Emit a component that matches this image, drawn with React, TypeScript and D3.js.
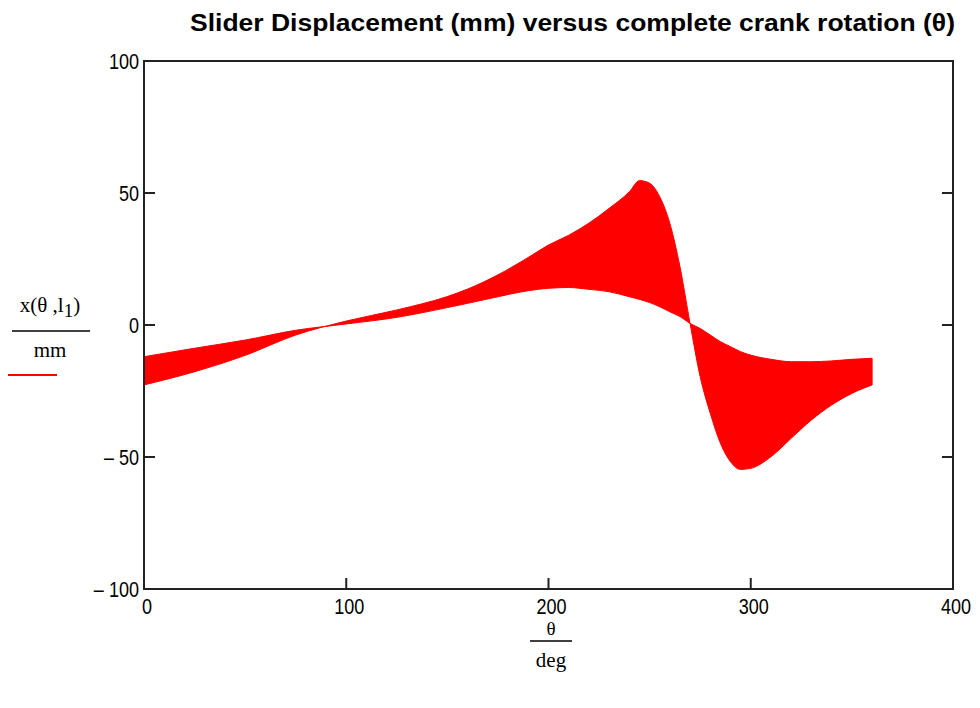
import React from 'react';
import * as d3 from 'd3';

// crank angle samples (deg) and the two envelope curves of the band (mm)
const THETA = [0, 25, 50, 75, 100, 125, 150, 160, 175, 190, 200, 210, 220, 230, 240, 245, 250, 255, 260, 265, 270, 275, 280, 285, 290, 295, 300, 310, 320, 330, 340, 350, 360];
const LARGE = [-22.7, -17.7, -11.5, -3.8, 1.5, 5.7, 10.8, 13.6, 19.0, 25.6, 30.3, 34.0, 38.6, 44.2, 50.5, 54.7, 53.7, 48.6, 38.5, 22.1, 0.6, -19.6, -33.5, -44.8, -51.8, -54.7, -54.3, -49.9, -42.9, -36.0, -30.3, -25.9, -22.7];
const SMALL = [-12.0, -8.8, -5.7, -2.0, 0.4, 2.9, 6.6, 8.2, 10.7, 13.0, 13.9, 14.2, 13.5, 12.6, 10.7, 9.7, 8.5, 6.9, 5.0, 3.2, 0.6, -1.3, -3.8, -6.3, -8.2, -10.1, -11.4, -13.0, -13.9, -13.9, -13.6, -13.0, -12.6];

const X_TICKS = [0, 100, 200, 300, 400];
const Y_TICKS = [100, 50, 0, -50, -100];
const Y_TICK_LABELS = ['100', '50', '0', '\u2013 50', '\u2013 100'];
const TITLE = 'Slider Displacement (mm) versus  complete  crank rotation (\u03b8)';

const W = 980;
const H = 708;
const PLOT = { left: 144, right: 953, top: 61, bottom: 589 };
const FRAME = '#222';
const TICK_FONT = '"Liberation Sans", Arial, sans-serif';
const SERIF = '"Liberation Serif", "Times New Roman", serif';
const SQUEEZE = 0.82;

export default function App() {
  const x = d3.scaleLinear().domain([0, 400]).range([PLOT.left, PLOT.right]);
  const y = d3.scaleLinear().domain([-100, 100]).range([PLOT.bottom, PLOT.top]);

  const band = THETA.map((t, i) => ({ t, a: LARGE[i], b: SMALL[i] }));
  const area = d3
    .area<{ t: number; a: number; b: number }>()
    .x((d) => x(d.t))
    .y0((d) => y(d.b))
    .y1((d) => y(d.a))
    .curve(d3.curveMonotoneX);

  return (
    <svg
      width={W}
      height={H}
      style={{ position: 'absolute', left: 0, top: 0, background: '#fff' }}
    >
      <text
        x={190}
        y={31}
        fontFamily={TICK_FONT}
        fontWeight="bold"
        fontSize={23}
        textLength={765}
        lengthAdjust="spacingAndGlyphs"
        fill="#000"
      >
        {TITLE}
      </text>

      {/* band */}
      <path d={area(band) ?? ''} fill="#ff0000" stroke="#ff0000" strokeWidth={1} />

      {/* frame */}
      <rect
        x={PLOT.left}
        y={PLOT.top}
        width={PLOT.right - PLOT.left}
        height={PLOT.bottom - PLOT.top}
        fill="none"
        stroke={FRAME}
        strokeWidth={2}
      />

      {/* x ticks */}
      {X_TICKS.map((t) => (
        <g key={t}>
          {t > 0 && t < 400 && (
            <line x1={x(t)} x2={x(t)} y1={PLOT.bottom} y2={PLOT.bottom - 11} stroke={FRAME} strokeWidth={2} />
          )}
          <text
            transform={`translate(${x(t) + 3},${PLOT.bottom + 25}) scale(${SQUEEZE},1)`}
            textAnchor="middle"
            fontFamily={TICK_FONT}
            fontSize={22}
            fill="#000"
          >
            {t}
          </text>
        </g>
      ))}

      {/* y ticks */}
      {Y_TICKS.map((t, i) => (
        <g key={t}>
          {t > -100 && t < 100 && (
            <>
              <line x1={PLOT.left} x2={PLOT.left + 11} y1={y(t)} y2={y(t)} stroke={FRAME} strokeWidth={2} />
              <line x1={PLOT.right} x2={PLOT.right - 11} y1={y(t)} y2={y(t)} stroke={FRAME} strokeWidth={2} />
            </>
          )}
          <text
            transform={`translate(${PLOT.left - 5},${y(t) + 8}) scale(${SQUEEZE},1)`}
            textAnchor="end"
            fontFamily={TICK_FONT}
            fontSize={22}
            fill="#000"
          >
            {Y_TICK_LABELS[i]}
          </text>
        </g>
      ))}

      {/* y axis label */}
      <g fontFamily={SERIF} fill="#000">
        <text x={50} y={312} textAnchor="middle" fontSize={21}>
          x(θ ,l<tspan fontSize={19} dy={5}>1</tspan>
          <tspan dy={-5}>)</tspan>
        </text>
        <line x1={12} x2={90} y1={331} y2={331} stroke="#000" strokeWidth={1.5} />
        <text x={50} y={357} textAnchor="middle" fontSize={21}>mm</text>
        <line x1={8} x2={57} y1={375} y2={375} stroke="#ff0000" strokeWidth={2} />
      </g>

      {/* x axis label */}
      <g fontFamily={SERIF} fill="#000">
        <text x={551} y={635} textAnchor="middle" fontSize={19}>θ</text>
        <line x1={530} x2={572} y1={641} y2={641} stroke="#000" strokeWidth={1.5} />
        <text x={551} y={667} textAnchor="middle" fontSize={21}>deg</text>
      </g>
    </svg>
  );
}
